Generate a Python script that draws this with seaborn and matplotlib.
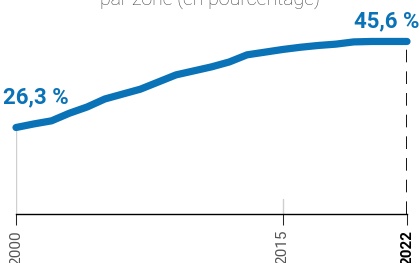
"""Share chart: line from 2000 to 2022 with end-point labels."""

import matplotlib

matplotlib.use("Agg")
import matplotlib.pyplot as plt
import pandas as pd
import seaborn as sns

BLUE = "#0a72b6"
GREY = "#555555"

years = list(range(2000, 2023))
shares = [26.3, 27.1, 27.8, 29.5, 30.9, 32.7, 33.8, 34.9, 36.5, 38.1, 39.0,
          39.9, 41.0, 42.6, 43.2, 43.8, 44.3, 44.7, 45.0, 45.5, 45.6, 45.6, 45.6]
tick_years = [2000, 2015, 2022]
title = "par zone (en pourcentage)"

sns.set_theme(style="white")
plt.rcParams["font.family"] = ["Roboto", "DejaVu Sans"]

df = pd.DataFrame({"year": years, "share": shares})

fig = plt.figure(figsize=(4.2, 2.63), dpi=100)
ax = fig.add_axes([16 / 420, 49 / 263, 391 / 420, 214 / 263])
ax.set_xlim(years[0], years[-1])
ax.set_ylim(6.9, 54.9)

# light grid marks under the series
ax.vlines(years[0], 6.9, shares[0], color="#cfcfcf", lw=1, zorder=1)
ax.axvline(2015, ymin=0, ymax=15 / 214, color="#cfcfcf", lw=1, zorder=1)
ax.vlines(years[-1], 6.9, shares[-1], color="black", lw=1.3,
          linestyles=(0, (7, 5)), zorder=1)

sns.lineplot(data=df, x="year", y="share", color=BLUE, lw=5.2,
             solid_capstyle="round", ax=ax, zorder=3, clip_on=False)

ax.annotate(f"{shares[0]:.1f} %".replace(".", ","), (years[0], shares[0]),
            xytext=(-13, 24), textcoords="offset pixels", ha="left",
            va="baseline", color=BLUE, fontsize=16, fontweight="bold")
ax.annotate(f"{shares[-1]:.1f} %".replace(".", ","), (years[-1], shares[-1]),
            xytext=(13, 14), textcoords="offset pixels", ha="right",
            va="baseline", color=BLUE, fontsize=16, fontweight="bold",
            annotation_clip=False)

fig.text(0.5, 1 - 6 / 263, title, ha="center", va="baseline",
         fontsize=14, color="#3a3a3a", fontweight="light")

for side in ["top", "left", "right"]:
    ax.spines[side].set_visible(False)
ax.spines["bottom"].set_color("black")
ax.spines["bottom"].set_linewidth(1)
ax.set_yticks([])
ax.set_xticks(tick_years)
ax.set_xticklabels([str(y) for y in tick_years], rotation=90, fontsize=11,
                   color=GREY)
ax.tick_params(axis="x", length=8, width=0.75, pad=3.5, bottom=True)
ax.set_xlabel("")
ax.set_ylabel("")
for tick in ax.xaxis.get_major_ticks():
    tick.tick1line.set_color("#cfcfcf")
    tick.label1.set_va("top")
ax.xaxis.get_major_ticks()[-1].tick1line.set_color("black")
last = ax.get_xticklabels()[-1]
last.set_fontweight("bold")
last.set_color("black")

fig.savefig("out.png", dpi=100)
